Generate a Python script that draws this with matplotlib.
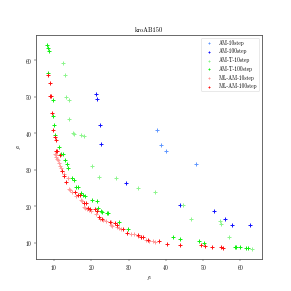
import matplotlib
matplotlib.use('Agg')
import matplotlib.pyplot as plt

plt.rcParams['font.family'] = 'serif'
plt.rcParams['font.serif'] = ['cmr10', 'DejaVu Serif']
plt.rcParams['mathtext.fontset'] = 'cm'
plt.rcParams['axes.formatter.use_mathtext'] = True

# AM-10step
am10_x = [37.5, 38.7, 40.1, 48.2]
am10_y = [41.0, 36.7, 35.1, 31.5]

# AM-100step
am100_x = [21.2, 21.6, 22.4, 22.6, 29.3, 43.8, 52.9, 55.8, 57.8, 62.5]
am100_y = [50.7, 49.3, 42.2, 37.2, 26.4, 20.3, 18.8, 16.5, 14.9, 14.9]

# AM-T-10step
amt10_x = [12.3, 13.0, 13.3, 14.0, 14.0, 15.0, 15.4, 17.1, 18.1, 20.2, 22.0,
           26.7, 32.5, 37.1, 44.5, 46.6, 54.4, 54.7, 56.9, 63.0]
amt10_y = [59.4, 56.1, 50.1, 49.2, 43.9, 40.1, 39.8, 39.5, 39.2, 31.0, 28.2,
           27.8, 25.0, 23.9, 20.3, 16.7, 15.9, 15.1, 11.6, 8.4]

# AM-T-100step
amt100_x = [8.0, 8.3, 8.6, 8.5, 9.7, 9.7, 10.0, 10.3, 11.2, 11.8, 12.3, 12.8,
            13.5, 13.8, 14.7, 15.4, 16.0, 16.5, 17.3, 17.8, 18.2, 20.3, 21.4,
            21.9, 22.6, 22.8, 24.1, 24.5, 27.4, 29.7, 41.9, 43.8, 49.0, 50.3,
            58.4, 58.7, 59.9, 61.5, 62.0]
amt100_y = [64.2, 63.3, 62.5, 56.6, 49.2, 44.8, 42.2, 39.6, 36.3, 34.5, 34.5,
            32.6, 31.6, 30.6, 27.8, 27.2, 25.4, 25.3, 23.7, 23.2, 22.8, 21.9,
            21.4, 19.6, 18.8, 18.4, 18.1, 18.1, 15.7, 13.7, 11.7, 11.2, 10.5,
            10.1, 8.9, 8.9, 8.8, 8.7, 8.5]

# ML-AM-10step
mlam10_x = [10.3, 10.5, 10.6, 10.9, 11.1, 11.3, 11.6, 11.9, 12.2, 12.6, 13.6,
            13.9, 14.4, 14.9, 16.0, 17.2, 17.6, 18.1, 18.4, 18.8, 19.5, 20.0,
            21.3, 22.4, 23.0, 24.0, 25.2, 25.5, 25.2, 27.0, 27.4, 28.0, 30.6,
            31.5, 32.5, 33.3, 34.7, 35.5, 36.5, 37.2]
mlam10_y = [34.5, 34.0, 33.6, 33.0, 32.7, 31.8, 31.1, 30.4, 29.6, 28.9, 27.7,
            24.7, 24.5, 24.0, 22.9, 21.7, 21.4, 19.9, 19.5, 19.2, 18.9, 18.7,
            18.0, 16.7, 16.3, 16.0, 15.7, 14.7, 14.9, 14.3, 14.0, 13.7, 12.5,
            12.4, 12.0, 11.6, 10.8, 10.6, 10.5, 10.2]

# ML-AM-100step
mlam100_x = [8.4, 8.8, 8.9, 9.1, 9.5, 9.7, 10.3, 10.5, 10.5, 10.8, 11.6, 12.0,
             12.6, 13.2, 15.6, 16.3, 16.9, 18.1, 18.5, 19.1, 19.7, 21.0, 21.6,
             22.0, 22.8, 24.9, 26.3, 26.9, 28.5, 29.5, 32.4, 33.3, 33.8, 35.2,
             38.2, 40.2, 43.9, 49.4, 50.6, 52.4, 54.8, 55.4]
mlam100_y = [55.9, 53.7, 50.3, 50.3, 45.7, 41.0, 39.0, 38.1, 35.2, 35.2, 34.0,
             29.8, 28.3, 26.7, 23.9, 23.2, 23.2, 21.0, 21.0, 19.6, 19.3, 19.2,
             18.7, 17.0, 16.6, 15.7, 15.5, 15.0, 13.7, 12.8, 12.2, 11.7, 11.6,
             10.8, 10.5, 9.6, 9.5, 9.4, 9.3, 8.9, 8.8, 8.7]

dpi = 38.8
fig, ax = plt.subplots(figsize=(7.5, 7.5), dpi=dpi)
ms = 36
lw = 1.8
ax.scatter(am10_x, am10_y, marker='+', s=ms, linewidths=lw, color='#5f96ff', label='AM-10step')
ax.scatter(am100_x, am100_y, marker='+', s=ms, linewidths=lw, color='#1010ff', label='AM-100step')
ax.scatter(amt10_x, amt10_y, marker='+', s=ms, linewidths=lw, color='#8cf58c', label='AM-T-10step')
ax.scatter(amt100_x, amt100_y, marker='+', s=ms, linewidths=lw, color='#10f010', label='AM-T-100step')
ax.scatter(mlam10_x, mlam10_y, marker='+', s=ms, linewidths=lw, color='#ff9a9a', label='ML-AM-10step')
ax.scatter(mlam100_x, mlam100_y, marker='+', s=ms, linewidths=lw, color='#ff1010', label='ML-AM-100step')

for sp in ax.spines.values():
    sp.set_linewidth(1.6)
    sp.set_color('#555555')

ax.set_title('kroAB150')
ax.set_xlabel('$f_1$')
ax.set_ylabel('$f_2$')
ax.legend(loc='upper right', markerscale=0.6)

fig.savefig('out.png', dpi=dpi)
